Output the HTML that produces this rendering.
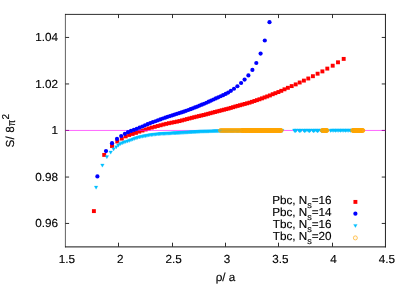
<!DOCTYPE html>
<html><head><meta charset="utf-8"><title>plot</title>
<style>html,body{margin:0;padding:0;background:#fff;}svg{display:block;}svg text{font-family:"Liberation Sans",sans-serif;}</style></head>
<body><svg width="407" height="285" viewBox="0 0 407 285">
<defs><filter id="tb" x="0" y="0" width="407" height="285" filterUnits="userSpaceOnUse"><feGaussianBlur stdDeviation="0.3"/></filter><filter id="db" x="0" y="0" width="407" height="285" filterUnits="userSpaceOnUse"><feGaussianBlur stdDeviation="0.35"/></filter></defs>
<rect width="407" height="285" fill="#fff"/>
<path d="M65.4 13.95V247.35" stroke="#161616" stroke-width="0.68" fill="none"/>
<path d="M385.45 13.95V247.35" stroke="#161616" stroke-width="0.95" fill="none"/>
<path d="M65.00 14.4H385.90" stroke="#161616" stroke-width="0.9" fill="none"/>
<path d="M65.00 246.90H385.90" stroke="#161616" stroke-width="1.0" fill="none"/>
<path d="M118.50 246.7v-4.0M118.50 14.4v3.7M172.50 246.7v-4.0M172.50 14.4v3.7M225.50 246.7v-4.0M225.50 14.4v3.7M278.50 246.7v-4.0M278.50 14.4v3.7M332.50 246.7v-4.0M332.50 14.4v3.7M65.4 37.45h3.7M385.45 37.45h-3.7M65.4 83.95h3.7M385.45 83.95h-3.7M65.4 130.45h3.7M385.45 130.45h-3.7M65.4 177.05h3.7M385.45 177.05h-3.7M65.4 223.45h3.7M385.45 223.45h-3.7" stroke="#161616" stroke-width="0.9" fill="none"/>
<g filter="url(#db)">
<g fill="#ff0000"><rect x="91.95" y="209.15" width="3.9" height="3.9"/><rect x="102.25" y="152.95" width="3.9" height="3.9"/><rect x="110.05" y="144.05" width="3.9" height="3.9"/><rect x="115.35" y="139.55" width="3.9" height="3.9"/><rect x="119.85" y="136.65" width="3.9" height="3.9"/><rect x="123.75" y="134.40" width="3.9" height="3.9"/><rect x="127.24" y="132.99" width="3.9" height="3.9"/><rect x="130.67" y="131.97" width="3.9" height="3.9"/><rect x="134.02" y="130.88" width="3.9" height="3.9"/><rect x="137.31" y="129.66" width="3.9" height="3.9"/><rect x="140.54" y="128.59" width="3.9" height="3.9"/><rect x="143.70" y="127.53" width="3.9" height="3.9"/><rect x="146.80" y="126.50" width="3.9" height="3.9"/><rect x="149.84" y="125.64" width="3.9" height="3.9"/><rect x="152.83" y="124.85" width="3.9" height="3.9"/><rect x="155.76" y="124.07" width="3.9" height="3.9"/><rect x="158.64" y="123.31" width="3.9" height="3.9"/><rect x="161.47" y="122.56" width="3.9" height="3.9"/><rect x="164.25" y="121.88" width="3.9" height="3.9"/><rect x="166.99" y="121.26" width="3.9" height="3.9"/><rect x="169.68" y="120.72" width="3.9" height="3.9"/><rect x="172.33" y="120.19" width="3.9" height="3.9"/><rect x="174.94" y="119.67" width="3.9" height="3.9"/><rect x="177.51" y="119.13" width="3.9" height="3.9"/><rect x="180.05" y="118.45" width="3.9" height="3.9"/><rect x="182.56" y="117.79" width="3.9" height="3.9"/><rect x="185.03" y="117.14" width="3.9" height="3.9"/><rect x="187.47" y="116.49" width="3.9" height="3.9"/><rect x="189.89" y="115.86" width="3.9" height="3.9"/><rect x="192.28" y="115.26" width="3.9" height="3.9"/><rect x="194.65" y="114.70" width="3.9" height="3.9"/><rect x="197.00" y="114.14" width="3.9" height="3.9"/><rect x="199.33" y="113.59" width="3.9" height="3.9"/><rect x="201.64" y="113.05" width="3.9" height="3.9"/><rect x="203.94" y="112.45" width="3.9" height="3.9"/><rect x="206.22" y="111.85" width="3.9" height="3.9"/><rect x="208.50" y="111.25" width="3.9" height="3.9"/><rect x="210.76" y="110.65" width="3.9" height="3.9"/><rect x="213.02" y="110.06" width="3.9" height="3.9"/><rect x="215.28" y="109.47" width="3.9" height="3.9"/><rect x="217.53" y="108.90" width="3.9" height="3.9"/><rect x="219.78" y="108.32" width="3.9" height="3.9"/><rect x="222.03" y="107.75" width="3.9" height="3.9"/><rect x="224.29" y="107.18" width="3.9" height="3.9"/><rect x="226.56" y="106.60" width="3.9" height="3.9"/><rect x="228.83" y="105.94" width="3.9" height="3.9"/><rect x="231.11" y="105.24" width="3.9" height="3.9"/><rect x="233.40" y="104.55" width="3.9" height="3.9"/><rect x="235.71" y="103.92" width="3.9" height="3.9"/><rect x="238.04" y="103.29" width="3.9" height="3.9"/><rect x="240.38" y="102.65" width="3.9" height="3.9"/><rect x="242.75" y="102.00" width="3.9" height="3.9"/><rect x="245.13" y="101.35" width="3.9" height="3.9"/><rect x="247.55" y="100.69" width="3.9" height="3.9"/><rect x="249.98" y="99.89" width="3.9" height="3.9"/><rect x="252.45" y="99.05" width="3.9" height="3.9"/><rect x="254.95" y="98.20" width="3.9" height="3.9"/><rect x="257.48" y="97.34" width="3.9" height="3.9"/><rect x="260.05" y="96.41" width="3.9" height="3.9"/><rect x="262.65" y="95.45" width="3.9" height="3.9"/><rect x="265.25" y="94.49" width="3.9" height="3.9"/><rect x="267.95" y="93.49" width="3.9" height="3.9"/><rect x="270.75" y="92.26" width="3.9" height="3.9"/><rect x="273.45" y="91.23" width="3.9" height="3.9"/><rect x="276.45" y="90.09" width="3.9" height="3.9"/><rect x="279.35" y="88.87" width="3.9" height="3.9"/><rect x="282.55" y="87.37" width="3.9" height="3.9"/><rect x="285.95" y="85.85" width="3.9" height="3.9"/><rect x="289.75" y="84.15" width="3.9" height="3.9"/><rect x="293.75" y="82.45" width="3.9" height="3.9"/><rect x="297.75" y="80.55" width="3.9" height="3.9"/><rect x="301.95" y="78.65" width="3.9" height="3.9"/><rect x="306.35" y="76.55" width="3.9" height="3.9"/><rect x="310.95" y="74.25" width="3.9" height="3.9"/><rect x="315.65" y="71.75" width="3.9" height="3.9"/><rect x="320.45" y="69.45" width="3.9" height="3.9"/><rect x="325.35" y="66.65" width="3.9" height="3.9"/><rect x="330.75" y="63.75" width="3.9" height="3.9"/><rect x="336.05" y="60.35" width="3.9" height="3.9"/><rect x="341.75" y="56.95" width="3.9" height="3.9"/><rect x="353.45" y="199.95" width="3.9" height="3.9"/></g>
<line x1="65.4" y1="130.45" x2="385.45" y2="130.45" stroke="#ff00ff" stroke-width="0.6"/>
<g fill="#0000ff"><circle cx="97.40" cy="176.40" r="2.1"/><circle cx="106.00" cy="151.10" r="2.1"/><circle cx="112.05" cy="143.20" r="2.1"/><circle cx="117.00" cy="138.90" r="2.1"/><circle cx="121.20" cy="136.00" r="2.1"/><circle cx="124.90" cy="133.80" r="2.1"/><circle cx="128.00" cy="132.15" r="2.1"/><circle cx="130.97" cy="130.94" r="2.1"/><circle cx="133.88" cy="129.89" r="2.1"/><circle cx="136.74" cy="128.79" r="2.1"/><circle cx="139.54" cy="127.67" r="2.1"/><circle cx="142.30" cy="126.49" r="2.1"/><circle cx="145.00" cy="125.33" r="2.1"/><circle cx="147.67" cy="124.19" r="2.1"/><circle cx="150.29" cy="123.11" r="2.1"/><circle cx="152.87" cy="122.16" r="2.1"/><circle cx="155.41" cy="121.23" r="2.1"/><circle cx="157.91" cy="120.31" r="2.1"/><circle cx="160.39" cy="119.40" r="2.1"/><circle cx="162.83" cy="118.50" r="2.1"/><circle cx="165.24" cy="117.65" r="2.1"/><circle cx="167.63" cy="116.86" r="2.1"/><circle cx="169.99" cy="116.08" r="2.1"/><circle cx="172.33" cy="115.33" r="2.1"/><circle cx="174.65" cy="114.59" r="2.1"/><circle cx="176.96" cy="113.85" r="2.1"/><circle cx="179.25" cy="113.12" r="2.1"/><circle cx="181.53" cy="112.44" r="2.1"/><circle cx="183.80" cy="111.65" r="2.1"/><circle cx="186.06" cy="110.82" r="2.1"/><circle cx="188.32" cy="110.00" r="2.1"/><circle cx="190.57" cy="109.18" r="2.1"/><circle cx="192.83" cy="108.36" r="2.1"/><circle cx="195.08" cy="107.46" r="2.1"/><circle cx="197.34" cy="106.54" r="2.1"/><circle cx="199.61" cy="105.62" r="2.1"/><circle cx="201.88" cy="104.70" r="2.1"/><circle cx="204.17" cy="103.77" r="2.1"/><circle cx="206.47" cy="102.73" r="2.1"/><circle cx="208.79" cy="101.66" r="2.1"/><circle cx="211.13" cy="100.58" r="2.1"/><circle cx="213.48" cy="99.48" r="2.1"/><circle cx="215.86" cy="98.38" r="2.1"/><circle cx="218.27" cy="97.30" r="2.1"/><circle cx="220.70" cy="96.23" r="2.1"/><circle cx="223.10" cy="95.17" r="2.1"/><circle cx="225.70" cy="93.91" r="2.1"/><circle cx="228.20" cy="92.53" r="2.1"/><circle cx="230.90" cy="90.86" r="2.1"/><circle cx="234.00" cy="88.77" r="2.1"/><circle cx="237.40" cy="86.27" r="2.1"/><circle cx="241.10" cy="83.00" r="2.1"/><circle cx="244.60" cy="79.60" r="2.1"/><circle cx="248.40" cy="75.40" r="2.1"/><circle cx="252.40" cy="69.90" r="2.1"/><circle cx="256.30" cy="63.00" r="2.1"/><circle cx="260.60" cy="53.60" r="2.1"/><circle cx="264.80" cy="40.50" r="2.1"/><circle cx="269.50" cy="22.20" r="2.1"/><circle cx="355.40" cy="213.70" r="2.1"/></g>
<g fill="#00bfff" stroke="#00bfff" stroke-width="0.3" stroke-linejoin="round"><path d="M96.10 189.28L94.30 186.12H97.90Z"/><path d="M102.40 167.18L100.60 164.03H104.20Z"/><path d="M106.90 158.78L105.10 155.62H108.70Z"/><path d="M110.70 154.18L108.90 151.03H112.50Z"/><path d="M113.60 150.98L111.80 147.83H115.40Z"/><path d="M116.20 148.88L114.40 145.72H118.00Z"/><path d="M118.30 147.18L116.50 144.03H120.10Z"/><path d="M120.19 145.71L118.39 142.55H121.99Z"/><path d="M122.06 144.96L120.26 141.80H123.86Z"/><path d="M123.89 144.23L122.09 141.07H125.69Z"/><path d="M125.70 143.60L123.90 140.44H127.50Z"/><path d="M127.48 143.12L125.68 139.96H129.28Z"/><path d="M129.24 142.50L127.44 139.34H131.04Z"/><path d="M130.97 141.83L129.17 138.67H132.77Z"/><path d="M132.67 141.17L130.87 138.01H134.47Z"/><path d="M134.35 140.52L132.55 137.36H136.15Z"/><path d="M136.01 139.99L134.21 136.83H137.81Z"/><path d="M137.64 139.50L135.84 136.34H139.44Z"/><path d="M139.25 139.01L137.45 135.85H141.05Z"/><path d="M140.83 138.62L139.03 135.46H142.63Z"/><path d="M142.39 138.31L140.59 135.15H144.19Z"/><path d="M143.93 138.00L142.13 134.84H145.73Z"/><path d="M145.45 137.69L143.65 134.54H147.25Z"/><path d="M146.94 137.40L145.14 134.24H148.74Z"/><path d="M148.42 137.10L146.62 133.94H150.22Z"/><path d="M149.87 136.84L148.07 133.68H151.67Z"/><path d="M151.31 136.68L149.51 133.52H153.11Z"/><path d="M152.73 136.52L150.93 133.36H154.53Z"/><path d="M154.12 136.36L152.32 133.20H155.92Z"/><path d="M155.50 136.20L153.70 133.04H157.30Z"/><path d="M156.86 136.04L155.06 132.88H158.66Z"/><path d="M158.20 135.89L156.40 132.73H160.00Z"/><path d="M159.53 135.74L157.73 132.58H161.33Z"/><path d="M160.83 135.64L159.03 132.48H162.63Z"/><path d="M162.12 135.58L160.32 132.42H163.92Z"/><path d="M163.40 135.51L161.60 132.35H165.20Z"/><path d="M164.66 135.45L162.86 132.29H166.46Z"/><path d="M165.91 135.39L164.11 132.23H167.71Z"/><path d="M167.14 135.33L165.34 132.17H168.94Z"/><path d="M168.35 135.27L166.55 132.11H170.15Z"/><path d="M169.55 135.21L167.75 132.05H171.35Z"/><path d="M170.74 135.14L168.94 131.98H172.54Z"/><path d="M171.92 135.08L170.12 131.92H173.72Z"/><path d="M173.08 135.01L171.28 131.85H174.88Z"/><path d="M174.24 134.95L172.44 131.79H176.04Z"/><path d="M175.38 134.89L173.58 131.73H177.18Z"/><path d="M176.51 134.82L174.71 131.66H178.31Z"/><path d="M177.63 134.76L175.83 131.60H179.43Z"/><path d="M178.74 134.70L176.94 131.54H180.54Z"/><path d="M179.84 134.63L178.04 131.47H181.64Z"/><path d="M180.93 134.56L179.13 131.41H182.73Z"/><path d="M182.01 134.50L180.21 131.34H183.81Z"/><path d="M183.08 134.43L181.28 131.27H184.88Z"/><path d="M184.15 134.37L182.35 131.21H185.95Z"/><path d="M185.21 134.30L183.41 131.14H187.01Z"/><path d="M186.26 134.23L184.46 131.08H188.06Z"/><path d="M187.31 134.17L185.51 131.01H189.11Z"/><path d="M188.35 134.11L186.55 130.95H190.15Z"/><path d="M189.38 134.04L187.58 130.88H191.18Z"/><path d="M190.41 133.98L188.61 130.82H192.21Z"/><path d="M191.43 133.91L189.63 130.76H193.23Z"/><path d="M192.45 133.85L190.65 130.69H194.25Z"/><path d="M193.47 133.79L191.67 130.63H195.27Z"/><path d="M194.48 133.73L192.68 130.57H196.28Z"/><path d="M195.49 133.66L193.69 130.50H197.29Z"/><path d="M196.50 133.60L194.70 130.44H198.30Z"/><path d="M197.50 133.54L195.70 130.38H199.30Z"/><path d="M198.51 133.48L196.71 130.32H200.31Z"/><path d="M199.51 133.41L197.71 130.26H201.31Z"/><path d="M200.51 133.37L198.71 130.21H202.31Z"/><path d="M201.52 133.34L199.72 130.18H203.32Z"/><path d="M202.52 133.31L200.72 130.16H204.32Z"/><path d="M203.52 133.29L201.72 130.13H205.32Z"/><path d="M204.53 133.26L202.73 130.10H206.33Z"/><path d="M205.53 133.23L203.73 130.07H207.33Z"/><path d="M206.54 133.20L204.74 130.05H208.34Z"/><path d="M207.55 133.18L205.75 130.02H209.35Z"/><path d="M208.57 133.15L206.77 129.99H210.37Z"/><path d="M209.59 133.12L207.79 129.96H211.39Z"/><path d="M210.61 133.09L208.81 129.93H212.41Z"/><path d="M211.63 133.06L209.83 129.91H213.43Z"/><path d="M212.66 133.04L210.86 129.88H214.46Z"/><path d="M213.70 133.01L211.90 129.85H215.50Z"/><path d="M214.74 132.98L212.94 129.82H216.54Z"/><path d="M215.79 132.95L213.99 129.79H217.59Z"/><path d="M216.85 132.92L215.05 129.76H218.65Z"/><path d="M217.91 132.89L216.11 129.73H219.71Z"/><path d="M218.98 132.86L217.18 129.70H220.78Z"/><path d="M220.05 132.83L218.25 129.67H221.85Z"/><path d="M221.14 132.83L219.34 129.67H222.94Z"/><path d="M222.23 132.82L220.43 129.66H224.03Z"/><path d="M223.34 132.81L221.54 129.65H225.14Z"/><path d="M224.45 132.81L222.65 129.65H226.25Z"/><path d="M225.58 132.80L223.78 129.64H227.38Z"/><path d="M226.71 132.79L224.91 129.63H228.51Z"/><path d="M227.86 132.78L226.06 129.63H229.66Z"/><path d="M229.01 132.78L227.21 129.62H230.81Z"/><path d="M230.18 132.77L228.38 129.61H231.98Z"/><path d="M231.37 132.76L229.57 129.60H233.17Z"/><path d="M232.56 132.76L230.76 129.60H234.36Z"/><path d="M233.77 132.75L231.97 129.59H235.57Z"/><path d="M234.99 132.74L233.19 129.58H236.79Z"/><path d="M236.23 132.73L234.43 129.57H238.03Z"/><path d="M237.48 132.72L235.68 129.57H239.28Z"/><path d="M238.74 132.72L236.94 129.56H240.54Z"/><path d="M240.03 132.71L238.23 129.55H241.83Z"/><path d="M241.33 132.70L239.53 129.54H243.13Z"/><path d="M242.64 132.69L240.84 129.53H244.44Z"/><path d="M243.97 132.68L242.17 129.53H245.77Z"/><path d="M245.32 132.68L243.52 129.52H247.12Z"/><path d="M246.69 132.67L244.89 129.51H248.49Z"/><path d="M248.07 132.66L246.27 129.50H249.87Z"/><path d="M249.48 132.65L247.68 129.49H251.28Z"/><path d="M250.90 132.64L249.10 129.48H252.70Z"/><path d="M252.34 132.63L250.54 129.47H254.14Z"/><path d="M253.81 132.62L252.01 129.46H255.61Z"/><path d="M255.29 132.61L253.49 129.45H257.09Z"/><path d="M256.80 132.60L255.00 129.45H258.60Z"/><path d="M258.32 132.59L256.52 129.44H260.12Z"/><path d="M259.87 132.58L258.07 129.43H261.67Z"/><path d="M261.44 132.58L259.64 129.42H263.24Z"/><path d="M263.04 132.57L261.24 129.41H264.84Z"/><path d="M264.66 132.56L262.86 129.40H266.46Z"/><path d="M266.30 132.55L264.50 129.39H268.10Z"/><path d="M267.96 132.54L266.16 129.39H269.76Z"/><path d="M269.65 132.54L267.85 129.38H271.45Z"/><path d="M271.37 132.53L269.57 129.37H273.17Z"/><path d="M273.11 132.52L271.31 129.36H274.91Z"/><path d="M274.87 132.51L273.07 129.35H276.67Z"/><path d="M276.67 132.50L274.87 129.34H278.47Z"/><path d="M278.49 132.49L276.69 129.33H280.29Z"/><path d="M280.34 132.48L278.54 129.32H282.14Z"/><path d="M282.21 132.47L280.41 129.31H284.01Z"/><path d="M294.30 132.13L292.50 128.97H296.10Z"/><path d="M295.10 133.03L293.30 129.88H296.90Z"/><path d="M296.20 132.13L294.40 128.97H298.00Z"/><path d="M298.80 132.13L297.00 128.97H300.60Z"/><path d="M299.90 133.03L298.10 129.88H301.70Z"/><path d="M301.00 132.13L299.20 128.97H302.80Z"/><path d="M303.70 132.13L301.90 128.97H305.50Z"/><path d="M304.80 133.03L303.00 129.88H306.60Z"/><path d="M305.90 132.13L304.10 128.97H307.70Z"/><path d="M308.10 132.13L306.30 128.97H309.90Z"/><path d="M309.20 133.03L307.40 129.88H311.00Z"/><path d="M310.30 132.13L308.50 128.97H312.10Z"/><path d="M312.60 132.13L310.80 128.97H314.40Z"/><path d="M313.70 133.03L311.90 129.88H315.50Z"/><path d="M314.80 132.13L313.00 128.97H316.60Z"/><path d="M316.50 132.13L314.70 128.97H318.30Z"/><path d="M317.60 133.03L315.80 129.88H319.40Z"/><path d="M318.70 132.13L316.90 128.97H320.50Z"/><path d="M320.70 132.13L318.90 128.97H322.50Z"/><path d="M321.80 133.03L320.00 129.88H323.60Z"/><path d="M322.90 132.13L321.10 128.97H324.70Z"/><path d="M324.90 132.13L323.10 128.97H326.70Z"/><path d="M326.00 133.03L324.20 129.88H327.80Z"/><path d="M327.10 132.13L325.30 128.97H328.90Z"/><path d="M330.60 132.48L328.80 129.33H332.40Z"/><path d="M331.85 132.03L330.05 128.88H333.65Z"/><path d="M333.10 132.48L331.30 129.33H334.90Z"/><path d="M334.35 132.03L332.55 128.88H336.15Z"/><path d="M335.60 132.48L333.80 129.33H337.40Z"/><path d="M336.85 132.03L335.05 128.88H338.65Z"/><path d="M338.10 132.48L336.30 129.33H339.90Z"/><path d="M339.35 132.03L337.55 128.88H341.15Z"/><path d="M340.60 132.48L338.80 129.33H342.40Z"/><path d="M341.85 132.03L340.05 128.88H343.65Z"/><path d="M343.10 132.48L341.30 129.33H344.90Z"/><path d="M344.35 132.03L342.55 128.88H346.15Z"/><path d="M345.60 132.48L343.80 129.33H347.40Z"/><path d="M346.85 132.03L345.05 128.88H348.65Z"/><path d="M348.10 132.48L346.30 129.33H349.90Z"/><path d="M349.35 132.03L347.55 128.88H351.15Z"/><path d="M350.60 132.48L348.80 129.33H352.40Z"/><path d="M351.85 132.03L350.05 128.88H353.65Z"/><path d="M353.10 132.48L351.30 129.33H354.90Z"/><path d="M355.40 227.58L353.60 224.43H357.20Z"/></g>
<g fill="none" stroke="#ffa500" stroke-width="0.8"><circle cx="220.40" cy="130.45" r="1.88"/><circle cx="221.40" cy="130.45" r="1.88"/><circle cx="222.40" cy="130.45" r="1.88"/><circle cx="223.40" cy="130.45" r="1.88"/><circle cx="224.40" cy="130.45" r="1.88"/><circle cx="225.40" cy="130.45" r="1.88"/><circle cx="226.40" cy="130.45" r="1.88"/><circle cx="227.40" cy="130.45" r="1.88"/><circle cx="228.40" cy="130.45" r="1.88"/><circle cx="229.40" cy="130.45" r="1.88"/><circle cx="230.40" cy="130.45" r="1.88"/><circle cx="231.40" cy="130.45" r="1.88"/><circle cx="232.40" cy="130.45" r="1.88"/><circle cx="233.40" cy="130.45" r="1.88"/><circle cx="234.40" cy="130.45" r="1.88"/><circle cx="235.40" cy="130.45" r="1.88"/><circle cx="236.40" cy="130.45" r="1.88"/><circle cx="237.40" cy="130.45" r="1.88"/><circle cx="238.40" cy="130.45" r="1.88"/><circle cx="239.40" cy="130.45" r="1.88"/><circle cx="240.40" cy="130.45" r="1.88"/><circle cx="241.40" cy="130.45" r="1.88"/><circle cx="242.00" cy="130.45" r="1.88"/><circle cx="242.40" cy="130.45" r="1.88"/><circle cx="242.80" cy="130.45" r="1.88"/><circle cx="243.20" cy="130.45" r="1.88"/><circle cx="243.60" cy="130.45" r="1.88"/><circle cx="244.00" cy="130.45" r="1.88"/><circle cx="244.40" cy="130.45" r="1.88"/><circle cx="244.80" cy="130.45" r="1.88"/><circle cx="245.20" cy="130.45" r="1.88"/><circle cx="245.60" cy="130.45" r="1.88"/><circle cx="246.00" cy="130.45" r="1.88"/><circle cx="246.40" cy="130.45" r="1.88"/><circle cx="246.80" cy="130.45" r="1.88"/><circle cx="247.20" cy="130.45" r="1.88"/><circle cx="247.60" cy="130.45" r="1.88"/><circle cx="248.00" cy="130.45" r="1.88"/><circle cx="248.40" cy="130.45" r="1.88"/><circle cx="248.80" cy="130.45" r="1.88"/><circle cx="249.20" cy="130.45" r="1.88"/><circle cx="249.60" cy="130.45" r="1.88"/><circle cx="250.00" cy="130.45" r="1.88"/><circle cx="250.40" cy="130.45" r="1.88"/><circle cx="250.80" cy="130.45" r="1.88"/><circle cx="251.20" cy="130.45" r="1.88"/><circle cx="251.60" cy="130.45" r="1.88"/><circle cx="252.00" cy="130.45" r="1.88"/><circle cx="252.40" cy="130.45" r="1.88"/><circle cx="252.80" cy="130.45" r="1.88"/><circle cx="253.20" cy="130.45" r="1.88"/><circle cx="253.60" cy="130.45" r="1.88"/><circle cx="254.00" cy="130.45" r="1.88"/><circle cx="254.40" cy="130.45" r="1.88"/><circle cx="254.80" cy="130.45" r="1.88"/><circle cx="255.20" cy="130.45" r="1.88"/><circle cx="255.60" cy="130.45" r="1.88"/><circle cx="256.00" cy="130.45" r="1.88"/><circle cx="256.40" cy="130.45" r="1.88"/><circle cx="256.80" cy="130.45" r="1.88"/><circle cx="257.20" cy="130.45" r="1.88"/><circle cx="257.60" cy="130.45" r="1.88"/><circle cx="258.00" cy="130.45" r="1.88"/><circle cx="258.40" cy="130.45" r="1.88"/><circle cx="258.80" cy="130.45" r="1.88"/><circle cx="259.20" cy="130.45" r="1.88"/><circle cx="259.60" cy="130.45" r="1.88"/><circle cx="260.00" cy="130.45" r="1.88"/><circle cx="260.40" cy="130.45" r="1.88"/><circle cx="260.80" cy="130.45" r="1.88"/><circle cx="261.20" cy="130.45" r="1.88"/><circle cx="261.60" cy="130.45" r="1.88"/><circle cx="262.00" cy="130.45" r="1.88"/><circle cx="262.40" cy="130.45" r="1.88"/><circle cx="262.80" cy="130.45" r="1.88"/><circle cx="263.20" cy="130.45" r="1.88"/><circle cx="263.60" cy="130.45" r="1.88"/><circle cx="264.00" cy="130.45" r="1.88"/><circle cx="264.40" cy="130.45" r="1.88"/><circle cx="264.80" cy="130.45" r="1.88"/><circle cx="265.20" cy="130.45" r="1.88"/><circle cx="265.60" cy="130.45" r="1.88"/><circle cx="266.00" cy="130.45" r="1.88"/><circle cx="266.40" cy="130.45" r="1.88"/><circle cx="266.80" cy="130.45" r="1.88"/><circle cx="267.20" cy="130.45" r="1.88"/><circle cx="267.60" cy="130.45" r="1.88"/><circle cx="268.00" cy="130.45" r="1.88"/><circle cx="268.40" cy="130.45" r="1.88"/><circle cx="268.80" cy="130.45" r="1.88"/><circle cx="269.20" cy="130.45" r="1.88"/><circle cx="269.60" cy="130.45" r="1.88"/><circle cx="270.00" cy="130.45" r="1.88"/><circle cx="270.40" cy="130.45" r="1.88"/><circle cx="270.80" cy="130.45" r="1.88"/><circle cx="271.20" cy="130.45" r="1.88"/><circle cx="271.60" cy="130.45" r="1.88"/><circle cx="272.00" cy="130.45" r="1.88"/><circle cx="272.40" cy="130.45" r="1.88"/><circle cx="272.80" cy="130.45" r="1.88"/><circle cx="273.20" cy="130.45" r="1.88"/><circle cx="273.60" cy="130.45" r="1.88"/><circle cx="274.00" cy="130.45" r="1.88"/><circle cx="274.40" cy="130.45" r="1.88"/><circle cx="274.80" cy="130.45" r="1.88"/><circle cx="275.20" cy="130.45" r="1.88"/><circle cx="275.60" cy="130.45" r="1.88"/><circle cx="276.00" cy="130.45" r="1.88"/><circle cx="276.40" cy="130.45" r="1.88"/><circle cx="276.80" cy="130.45" r="1.88"/><circle cx="277.20" cy="130.45" r="1.88"/><circle cx="277.60" cy="130.45" r="1.88"/><circle cx="278.00" cy="130.45" r="1.88"/><circle cx="278.40" cy="130.45" r="1.88"/><circle cx="278.80" cy="130.45" r="1.88"/><circle cx="279.20" cy="130.45" r="1.88"/><circle cx="279.60" cy="130.45" r="1.88"/><circle cx="280.00" cy="130.45" r="1.88"/><circle cx="280.40" cy="130.45" r="1.88"/><circle cx="280.80" cy="130.45" r="1.88"/><circle cx="281.20" cy="130.45" r="1.88"/><circle cx="322.20" cy="130.45" r="1.88"/><circle cx="322.60" cy="130.45" r="1.88"/><circle cx="323.00" cy="130.45" r="1.88"/><circle cx="323.40" cy="130.45" r="1.88"/><circle cx="323.80" cy="130.45" r="1.88"/><circle cx="324.20" cy="130.45" r="1.88"/><circle cx="324.60" cy="130.45" r="1.88"/><circle cx="325.00" cy="130.45" r="1.88"/><circle cx="325.40" cy="130.45" r="1.88"/><circle cx="325.80" cy="130.45" r="1.88"/><circle cx="326.20" cy="130.45" r="1.88"/><circle cx="326.60" cy="130.45" r="1.88"/><circle cx="327.00" cy="130.45" r="1.88"/><circle cx="352.60" cy="130.45" r="1.88"/><circle cx="353.00" cy="130.45" r="1.88"/><circle cx="353.40" cy="130.45" r="1.88"/><circle cx="353.80" cy="130.45" r="1.88"/><circle cx="354.20" cy="130.45" r="1.88"/><circle cx="354.60" cy="130.45" r="1.88"/><circle cx="355.00" cy="130.45" r="1.88"/><circle cx="355.40" cy="130.45" r="1.88"/><circle cx="355.80" cy="130.45" r="1.88"/><circle cx="356.20" cy="130.45" r="1.88"/><circle cx="356.60" cy="130.45" r="1.88"/><circle cx="357.00" cy="130.45" r="1.88"/><circle cx="357.40" cy="130.45" r="1.88"/><circle cx="357.80" cy="130.45" r="1.88"/><circle cx="358.20" cy="130.45" r="1.88"/><circle cx="358.60" cy="130.45" r="1.88"/><circle cx="359.00" cy="130.45" r="1.88"/><circle cx="359.40" cy="130.45" r="1.88"/><circle cx="359.80" cy="130.45" r="1.88"/><circle cx="360.20" cy="130.45" r="1.88"/><circle cx="360.60" cy="130.45" r="1.88"/><circle cx="361.00" cy="130.45" r="1.88"/><circle cx="361.40" cy="130.45" r="1.88"/><circle cx="361.80" cy="130.45" r="1.88"/><circle cx="362.20" cy="130.45" r="1.88"/><circle cx="362.60" cy="130.45" r="1.88"/><circle cx="363.00" cy="130.45" r="1.88"/></g><circle cx="355.35" cy="237.9" r="2.05" fill="#fff8ec" stroke="#ffa500" stroke-width="0.6"/>
</g>
<g filter="url(#tb)" text-rendering="geometricPrecision" font-size="11.7" fill="#000" stroke="#000" stroke-width="0.15"><text x="58.0" y="227.40" text-anchor="end">0.96</text><text x="58.0" y="180.90" text-anchor="end">0.98</text><text x="58.0" y="134.40" text-anchor="end">1</text><text x="58.0" y="87.90" text-anchor="end">1.02</text><text x="58.0" y="41.40" text-anchor="end">1.04</text><text x="66.90" y="262.6" text-anchor="middle">1.5</text><text x="120.24" y="262.6" text-anchor="middle">2</text><text x="173.58" y="262.6" text-anchor="middle">2.5</text><text x="226.92" y="262.6" text-anchor="middle">3</text><text x="280.27" y="262.6" text-anchor="middle">3.5</text><text x="333.61" y="262.6" text-anchor="middle">4</text><text x="386.95" y="262.6" text-anchor="middle">4.5</text><text x="225.5" y="280.6" text-anchor="middle">ρ/ a</text><text transform="translate(14.4,147.4) rotate(-90)">S/<tspan x="14.6">8</tspan></text><text transform="translate(14.5,123.0) rotate(-90) scale(0.75,0.93)" text-anchor="middle">π</text><text transform="translate(8.8,119.4) rotate(-90)" font-size="10">2</text><text x="331.6" y="204.30" text-anchor="end">Pbc, N<tspan dy="3.4" font-size="9.1">s</tspan><tspan dy="-3.4">=16</tspan></text><text x="331.6" y="216.30" text-anchor="end">Pbc, N<tspan dy="3.4" font-size="9.1">s</tspan><tspan dy="-3.4">=14</tspan></text><text x="331.6" y="228.30" text-anchor="end">Tbc, N<tspan dy="3.4" font-size="9.1">s</tspan><tspan dy="-3.4">=16</tspan></text><text x="331.6" y="240.30" text-anchor="end">Tbc, N<tspan dy="3.4" font-size="9.1">s</tspan><tspan dy="-3.4">=20</tspan></text></g>
</svg></body></html>
